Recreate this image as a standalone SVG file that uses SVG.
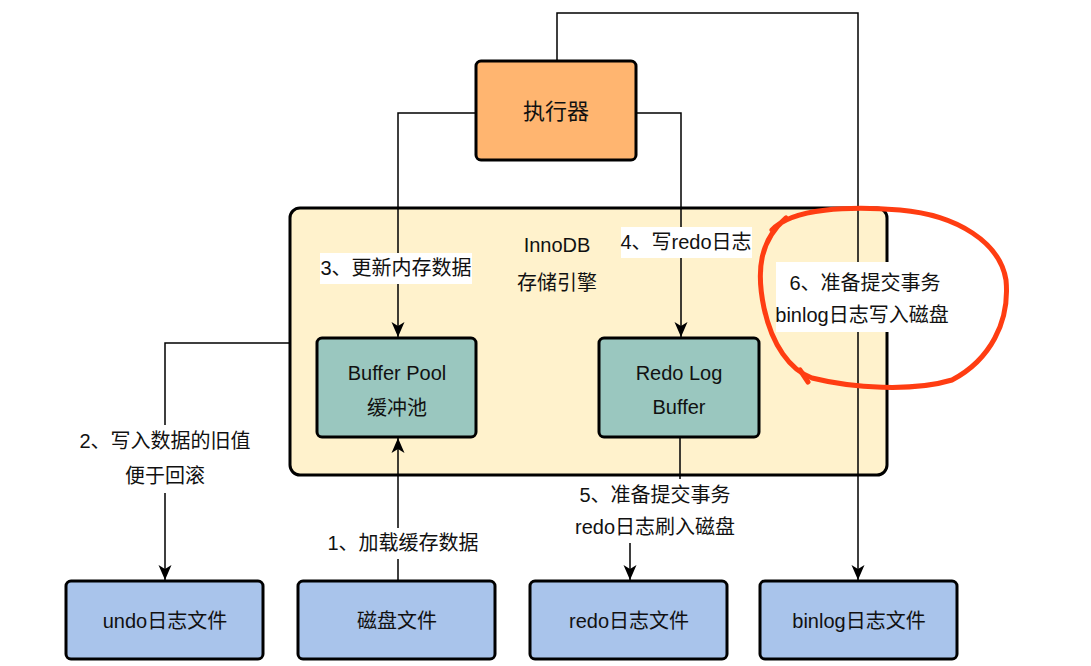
<svg xmlns="http://www.w3.org/2000/svg" width="1091" height="666" viewBox="0 0 1091 666">
  <style>
    .box { stroke: #000; stroke-width: 3; }
    .exec { fill: #FFB570; }
    .engine { fill: #FFF2CC; }
    .mem { fill: #9AC7BF; }
    .file { fill: #A9C4EB; }
    .t { font-family: "Liberation Sans", "Noto Sans CJK SC", sans-serif; font-size: 20px; fill: #111; text-anchor: middle; dominant-baseline: central; }
    .edge { fill: none; stroke: #000; stroke-width: 1.5; }
    .lblbg { fill: #fff; }
  </style>
  <defs>
    <marker id="arrow" markerUnits="userSpaceOnUse" markerWidth="18" markerHeight="16" refX="16" refY="8" orient="auto">
      <path d="M1,1.5 L16,8 L1,14.5 L5,8 Z" fill="#000"/>
    </marker>
  </defs>

  <rect width="1091" height="666" fill="#fff"/>

  <!-- storage engine container -->
  <g id="innodb">
    <rect class="box engine" x="290" y="208" width="597" height="267" rx="10"/>
    <text class="t" x="557" y="245">InnoDB</text>
    <text class="t" x="557" y="283">存储引擎</text>
  </g>

  <!-- connectors -->
  <g id="connectors">
    <path class="edge" d="M476,113 H398 V337" marker-end="url(#arrow)"/>
    <path class="edge" d="M636,113 H681 V337" marker-end="url(#arrow)"/>
    <path class="edge" d="M557,61 V13 H858 V580" marker-end="url(#arrow)"/>
    <path class="edge" d="M290,343 H165 V580" marker-end="url(#arrow)"/>
    <path class="edge" d="M398,581 V438" marker-end="url(#arrow)"/>
    <path class="edge" d="M680,437 V510 H630 V580" marker-end="url(#arrow)"/>

    <!-- edge labels -->
    <rect class="lblbg" x="320" y="253" width="152" height="31"/>
    <text class="t" x="396" y="268">3、更新内存数据</text>

    <rect class="lblbg" x="621" y="227" width="131" height="31"/>
    <text class="t" x="686" y="242">4、写redo日志</text>

    <rect class="lblbg" x="776" y="262" width="171" height="70"/>
    <text class="t" x="865" y="283">6、准备提交事务</text>
    <text class="t" x="862" y="315">binlog日志写入磁盘</text>

    <rect class="lblbg" x="80" y="425" width="170" height="68"/>
    <text class="t" x="165" y="441">2、写入数据的旧值</text>
    <text class="t" x="165" y="476">便于回滚</text>

    <rect class="lblbg" x="326" y="528" width="153" height="31"/>
    <text class="t" x="403" y="543">1、加载缓存数据</text>

    <rect class="lblbg" x="582" y="479" width="148" height="64"/>
    <text class="t" x="655" y="495">5、准备提交事务</text>
    <text class="t" x="655" y="527">redo日志刷入磁盘</text>
  </g>

  <g id="executor">
    <rect class="box exec" x="476" y="61" width="160" height="99" rx="5"/>
    <text class="t" x="556" y="111" style="font-size:22px">执行器</text>
  </g>

  <g id="buffer-pool">
    <rect class="box mem" x="317" y="338" width="159" height="99" rx="5"/>
    <text class="t" x="397" y="373">Buffer Pool</text>
    <text class="t" x="397" y="408">缓冲池</text>
  </g>

  <g id="redo-log-buffer">
    <rect class="box mem" x="599" y="338" width="160" height="99" rx="5"/>
    <text class="t" x="679" y="373">Redo Log</text>
    <text class="t" x="679" y="407">Buffer</text>
  </g>

  <g id="undo-file">
    <rect class="box file" x="66" y="581" width="197" height="78" rx="5"/>
    <text class="t" x="165" y="621">undo日志文件</text>
  </g>

  <g id="disk-file">
    <rect class="box file" x="298" y="581" width="197" height="78" rx="5"/>
    <text class="t" x="397" y="621">磁盘文件</text>
  </g>

  <g id="redo-file">
    <rect class="box file" x="530" y="581" width="197" height="78" rx="5"/>
    <text class="t" x="629" y="621">redo日志文件</text>
  </g>

  <g id="binlog-file">
    <rect class="box file" x="760" y="581" width="197" height="78" rx="5"/>
    <text class="t" x="859" y="621">binlog日志文件</text>
  </g>

  <!-- hand-drawn highlight around step 6 -->
  <g id="highlight" fill="none" stroke="#FF3D12" stroke-width="5" stroke-linecap="round" stroke-linejoin="round">
    <path d="M772,230 C792,208 850,206 900,210 C958,215 1000,243 1006,280 C1010,322 990,360 952,380 C912,392 852,388 812,378 C790,370 772,345 764,308 C756,270 760,240 786,218"/>
    <path d="M800,370 L808,382"/>
  </g>
</svg>
